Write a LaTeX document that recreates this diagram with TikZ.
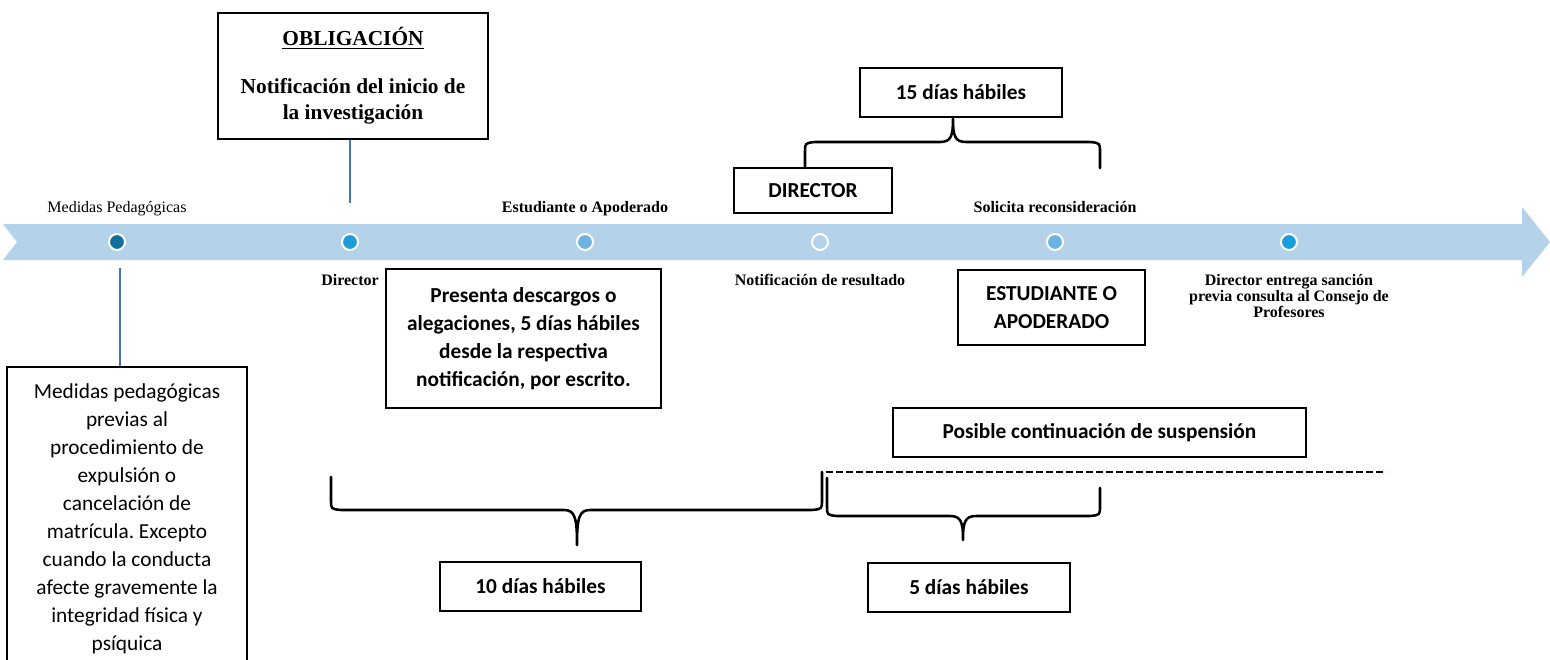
\documentclass[tikz,border=0pt]{standalone}
\usepackage{fontspec}
\setmainfont{Liberation Serif}
\newfontfamily\bodyfont{Carlito}
\usepackage{tikz}
\usetikzlibrary{positioning}
\usepackage{xcolor}
\frenchspacing
\definecolor{InkBlack}{RGB}{0,0,0}
\definecolor{BandBlue}{RGB}{180,210,233}
\definecolor{DeepBlue}{RGB}{16,111,156}
\definecolor{BrightBlue}{RGB}{29,156,220}
\definecolor{SoftBlue}{RGB}{108,178,226}
\definecolor{LineBlue}{RGB}{68,114,196}
\tikzset{%
  step_block/.style={%
    rectangle,%
    draw=InkBlack,%
    line width=0.9pt,%
    inner sep=0pt,%
    font={\bodyfont\bfseries\fontsize{16pt}{21pt}\selectfont},%
    align=center%
  },
  stop_dot/.style={%
    circle,%
    minimum size=12pt,%
    inner sep=0pt,%
    draw=white,%
    line width=1.5pt%
  },
  stop_label/.style={%
    inner sep=0pt,%
    align=center,%
    font={\fontsize{12pt}{12pt}\selectfont\bfseries}%
  },
  top_label/.style={%
    stop_label,%
    text depth=2.64pt%
  },
  tie_path/.style={%
    color=LineBlue,%
    line width=0.8pt%
  },
  brace_path/.style={%
    color=InkBlack,%
    line width=1.9pt,%
    line cap=round,%
    line join=round%
  },
  wait_path/.style={%
    color=InkBlack,%
    line width=1.8pt,%
    dash pattern=on 5pt off 2.5pt%
  },
}

\begin{document}
\begin{tikzpicture}[x=0.75pt, y=-0.75pt]
    \useasboundingbox (0,0) rectangle (1550,660);
    \clip (0,0) rectangle (1550,660);

    \fill [BandBlue]
      (3,224) -- (1522,224) -- (1522,207) -- (1550,242)
      -- (1522,277) -- (1522,260) -- (3,260) -- (17,242) -- cycle;
    \foreach \n/\xpos/\col in {1/117/DeepBlue, 2/350/BrightBlue, 3/585/SoftBlue,
                               4/820/BandBlue, 5/1055/SoftBlue, 6/1289/BrightBlue}
      \node [stop_dot, fill=\col] (Dot\n) at (\xpos,242) {};

    \node [top_label, font={\fontsize{12pt}{12pt}\selectfont}, above = 12.75pt of Dot1]
      (medidas_tag) {Medidas Pedagógicas};
    \node [top_label, above = 12.75pt of Dot3] (estudiante_tag) {Estudiante o Apoderado};
    \node [top_label, above = 12.75pt of Dot5] (solicita_tag) {Solicita reconsideración};
    \node [stop_label, below = 17pt of Dot2] (director_tag) {Director};
    \node [stop_label, below = 17pt of Dot4] (resultado_tag) {Notificación de resultado};
    \node [stop_label, below = 17pt of Dot6] (sancion_tag)
      {Director entrega sanción\\previa consulta al Consejo de\\Profesores};

    \node [step_block, font={\bfseries\fontsize{16pt}{19.5pt}\selectfont},
      minimum width=202.5pt, minimum height=94.5pt] (Oblig) at (353,76)
      {\underline{OBLIGACIÓN}\\[16.5pt]Notificación del inicio de\\la investigación};
    \node [step_block, minimum width=151.5pt, minimum height=36.75pt] (Quince) at (961,92.5)
      {15 días hábiles};
    \node [step_block, minimum width=118.5pt, minimum height=33.75pt] (Director) at (813,190.5)
      {DIRECTOR};
    \node [step_block, minimum width=206.25pt, minimum height=104.25pt] (Presenta) at (523.5,338.5)
      {Presenta descargos o\\alegaciones, 5 días hábiles\\desde la respectiva\\notificación, por escrito.};
    \node [step_block, minimum width=140.25pt, minimum height=56.25pt] (Estudiante) at (1051.5,307.5)
      {ESTUDIANTE O\\APODERADO};
    \node [step_block, minimum width=309.75pt, minimum height=36.75pt] (Posible) at (1099.5,432.5)
      {Posible continuación de suspensión};
    \node [step_block, minimum width=150.75pt, minimum height=36.75pt] (Diez) at (540.5,586.5)
      {10 días hábiles};
    \node [step_block, minimum width=151.5pt, minimum height=36.75pt] (Cinco) at (969,587.5)
      {5 días hábiles};
    \node [step_block, font={\bodyfont\fontsize{16pt}{21pt}\selectfont},
      minimum width=180pt, minimum height=227.25pt] (Medidas) at (127,518.5)
      {Medidas pedagógicas\\previas al\\procedimiento de\\expulsión o\\cancelación de\\matrícula. Excepto\\cuando la conducta\\afecte gravemente la\\integridad física y\\psíquica};

    \coordinate [above = 22.5pt of Dot2] (oblig_tail);
    \coordinate (medidas_tail) at (120,268);
    \draw [tie_path]
      (Oblig.south -| oblig_tail)
      --
      (oblig_tail);
    \draw [tie_path]
      (medidas_tail)
      --
      (medidas_tail |- Medidas.north);

    \draw [brace_path]
      (805,168) -- (805,152) .. controls (805,143) .. (815,142)
      -- (940,142) .. controls (951,142) and (953,136) .. (953,119)
      .. controls (953,136) and (955,142) .. (966,142)
      -- (1090,142) .. controls (1100,143) .. (1100,152) -- (1100,168);
    \draw [brace_path]
      (331,477) -- (331,500) .. controls (331,509) .. (341,510)
      -- (564,510) .. controls (575,510) and (577,518) .. (577,545)
      .. controls (577,518) and (579,510) .. (590,510)
      -- (812,510) .. controls (822,509) .. (822,500) -- (822,472);
    \draw [brace_path]
      (827,478) -- (827,506) .. controls (827,515) .. (837,516)
      -- (950,516) .. controls (961,516) and (963,522) .. (963,540)
      .. controls (963,522) and (965,516) .. (976,516)
      -- (1090,516) .. controls (1100,515) .. (1100,506) -- (1100,488);
    \draw [wait_path] (826,472) -- (1386,472);
\end{tikzpicture}
\end{document}
